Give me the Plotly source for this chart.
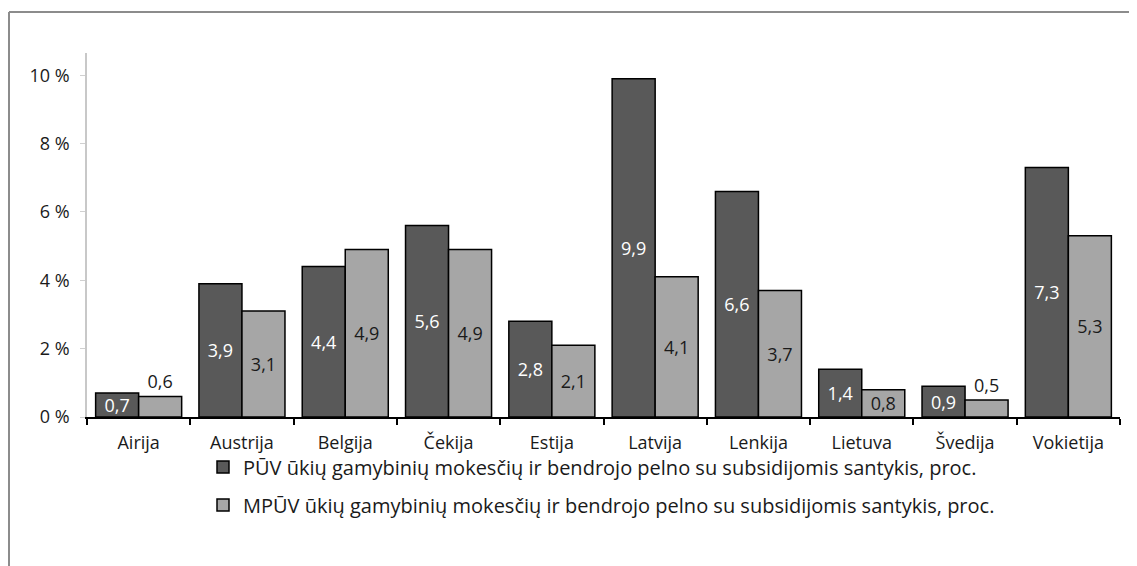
import plotly.graph_objects as go

categories = ["Airija", "Austrija", "Belgija", "Čekija", "Estija", "Latvija",
              "Lenkija", "Lietuva", "Švedija", "Vokietija"]
puv = [0.7, 3.9, 4.4, 5.6, 2.8, 9.9, 6.6, 1.4, 0.9, 7.3]
mpuv = [0.6, 3.1, 4.9, 4.9, 2.1, 4.1, 3.7, 0.8, 0.5, 5.3]
name_puv = "PŪV ūkių gamybinių mokesčių ir bendrojo pelno su subsidijomis santykis, proc."
name_mpuv = "MPŪV ūkių gamybinių mokesčių ir bendrojo pelno su subsidijomis santykis, proc."
y_ticks = [0, 2, 4, 6, 8, 10]
y_ticktext = ["0 %", "2 %", "4 %", "6 %", "8 %", "10 %"]

# page offset (browser body margin)
OFF = 8
W, H = 1137 - OFF, 566 - OFF
# plot area in reference page pixels
PX0, PX1, PY0, PY1 = 87, 1120, 53, 417
ML = PX0 - OFF
MT = PY0 - OFF
MR = W - (PX1 - OFF)
MB = H - (PY1 - OFF)
FONT = "Open Sans"

def fmt(v):
    return f"{v:.1f}".replace(".", ",")

def positions(vals, thresh):
    return ["outside" if v < thresh else "inside" for v in vals]

fig = go.Figure()
fig.add_trace(go.Bar(
    x=categories, y=puv, name=name_puv,
    marker=dict(color="#595959", line=dict(color="#000000", width=1.5)),
    text=[fmt(v) for v in puv], textposition=positions(puv, 0.65),
    insidetextanchor="middle", constraintext="none",
    insidetextfont=dict(color="white", size=18, family=FONT),
    outsidetextfont=dict(color="#1a1a1a", size=18, family=FONT),
    legend="legend",
))
fig.add_trace(go.Bar(
    x=categories, y=mpuv, name=name_mpuv,
    marker=dict(color="#A6A6A6", line=dict(color="#000000", width=1.5)),
    text=[fmt(v) for v in mpuv], textposition=positions(mpuv, 0.65),
    insidetextanchor="middle", constraintext="none",
    insidetextfont=dict(color="#1a1a1a", size=18, family=FONT),
    outsidetextfont=dict(color="#1a1a1a", size=18, family=FONT),
    legend="legend2",
))

pw = PX1 - PX0
ph = PY1 - PY0

def px_x(px):
    return (px - PX0) / pw

def px_y(py):
    return (PY1 - py) / ph

shapes = [
    dict(type="line", xref="paper", yref="paper",
         x0=px_x(9), x1=px_x(9), y0=px_y(12), y1=px_y(600),
         line=dict(color="#8c8c8c", width=2)),
    dict(type="line", xref="paper", yref="paper",
         x0=px_x(9), x1=px_x(1200), y0=px_y(12), y1=px_y(12),
         line=dict(color="#8c8c8c", width=2)),
]

fig.update_layout(
    width=W, height=H,
    margin=dict(l=ML, r=MR, t=MT, b=MB),
    paper_bgcolor="white", plot_bgcolor="white",
    font=dict(family=FONT, size=18, color="#1a1a1a"),
    barmode="group", bargap=0.167, bargroupgap=0,
    showlegend=True,
    legend=dict(x=px_x(203), y=px_y(467), xanchor="left", yanchor="middle",
                itemwidth=30, font=dict(size=20, family=FONT), bgcolor="rgba(0,0,0,0)"),
    legend2=dict(x=px_x(203), y=px_y(505), xanchor="left", yanchor="middle",
                 itemwidth=30, font=dict(size=20, family=FONT), bgcolor="rgba(0,0,0,0)"),
    shapes=shapes,
    xaxis=dict(showline=True, linecolor="#000000", linewidth=1.5,
               ticks="outside", tickson="boundaries", ticklen=6, tickcolor="#000000",
               tickwidth=1.5, tickfont=dict(size=18, family=FONT), showgrid=False,
               ticklabelstandoff=9),
    yaxis=dict(range=[0, 10.65], tickvals=y_ticks, ticktext=y_ticktext,
               showline=True, linecolor="#C8C8C8", linewidth=1.5,
               ticks="outside", ticklen=5, tickcolor="#D0D0D0",
               tickfont=dict(size=18, family=FONT), showgrid=False, zeroline=False,
               ticklabelstandoff=7),
)

fig.write_html("out.html")
